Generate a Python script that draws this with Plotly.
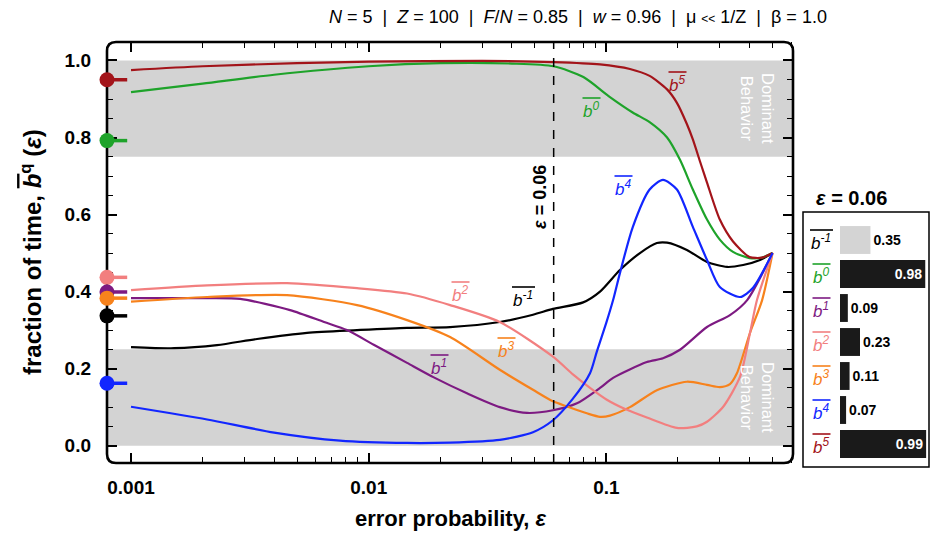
import numpy as np
import plotly.graph_objects as go

# ---------------- data ----------------
eps_bm1 = [0.001, 0.00152, 0.0023, 0.00339, 0.0055, 0.00893, 0.0145, 0.022, 0.0356, 0.0491, 0.0596,
           0.0798, 0.094, 0.114, 0.1384, 0.163, 0.18, 0.218, 0.265, 0.322, 0.376, 0.443, 0.5]
val_bm1 = [0.256, 0.253, 0.261, 0.277, 0.293, 0.300, 0.306, 0.308, 0.321, 0.34, 0.355,
           0.372, 0.40, 0.456, 0.50, 0.526, 0.527, 0.508, 0.477, 0.464, 0.469, 0.482, 0.5]

eps_b0 = [0.001, 0.002, 0.004, 0.01, 0.02, 0.04, 0.06, 0.08, 0.1035, 0.129, 0.152, 0.18, 0.204,
          0.231, 0.265, 0.30, 0.341, 0.40, 0.45, 0.5]
val_b0 = [0.918, 0.94, 0.963, 0.985, 0.993, 0.992, 0.985, 0.957, 0.905, 0.865, 0.84, 0.80, 0.742,
          0.665, 0.587, 0.535, 0.503, 0.487, 0.488, 0.5]

eps_b1 = [0.001, 0.00209, 0.00288, 0.00467, 0.00649, 0.0081, 0.0105, 0.0145, 0.0187, 0.0259, 0.0356,
          0.0464, 0.0596, 0.0752, 0.094, 0.1067, 0.148, 0.173, 0.204, 0.265, 0.331, 0.391, 0.5]
val_b1 = [0.383, 0.383, 0.381, 0.352, 0.321, 0.30, 0.262, 0.215, 0.178, 0.136, 0.10,
          0.085, 0.092, 0.11, 0.15, 0.176, 0.217, 0.227, 0.249, 0.308, 0.339, 0.378, 0.5]

eps_b2 = [0.001, 0.00209, 0.00453, 0.00893, 0.0145, 0.022, 0.0356, 0.0596, 0.0723, 0.0853, 0.1, 0.12,
          0.148, 0.198, 0.24, 0.265, 0.31, 0.365, 0.402, 0.43, 0.5]
val_b2 = [0.404, 0.416, 0.422, 0.409, 0.395, 0.365, 0.321, 0.231, 0.185, 0.15, 0.12, 0.095,
          0.073, 0.046, 0.05, 0.062, 0.101, 0.179, 0.293, 0.378, 0.5]

eps_b3 = [0.001, 0.00209, 0.00453, 0.00893, 0.0145, 0.022, 0.0356, 0.0491, 0.0596, 0.0682, 0.0828,
          0.094, 0.1035, 0.1256, 0.163, 0.218, 0.265, 0.30, 0.331, 0.354, 0.402, 0.452, 0.5]
val_b3 = [0.374, 0.386, 0.391, 0.365, 0.326, 0.282, 0.197, 0.145, 0.115, 0.102, 0.084,
          0.075, 0.078, 0.10, 0.144, 0.166, 0.158, 0.152, 0.16, 0.188, 0.293, 0.378, 0.5]

eps_b4 = [0.001, 0.00209, 0.004, 0.00757, 0.0145, 0.022, 0.0356, 0.0491, 0.0596, 0.0723, 0.0853,
          0.0912, 0.1, 0.1067, 0.114, 0.129, 0.152, 0.173, 0.198, 0.231, 0.265, 0.30, 0.365, 0.414, 0.5]
val_b4 = [0.101, 0.068, 0.034, 0.013, 0.007, 0.008, 0.015, 0.035, 0.066, 0.122, 0.188,
          0.245, 0.32, 0.378, 0.448, 0.567, 0.665, 0.69, 0.665, 0.568, 0.482, 0.412, 0.386, 0.41, 0.5]

eps_b5 = [0.001, 0.002, 0.005, 0.01, 0.03, 0.06, 0.094, 0.1256, 0.152, 0.18, 0.198, 0.218, 0.231,
          0.25, 0.265, 0.30, 0.341, 0.40, 0.45, 0.5]
val_b5 = [0.975, 0.985, 0.993, 0.997, 0.999, 0.996, 0.99, 0.978, 0.96, 0.925, 0.89, 0.835, 0.795,
          0.73, 0.683, 0.587, 0.53, 0.49, 0.488, 0.5]

# limit values marked on the left axis
left_keys = ["b5", "b0", "b2", "b1", "b3", "bm1", "b4"]
left_vals = [0.95, 0.792, 0.437, 0.399, 0.383, 0.337, 0.162]

# inset bar chart at eps = 0.06
bar_keys = ["bm1", "b0", "b1", "b2", "b3", "b4", "b5"]
bar_sups = ["-1", "0", "1", "2", "3", "4", "5"]
bar_values = [0.35, 0.98, 0.09, 0.23, 0.11, 0.07, 0.99]
eps_marked = 0.06

x_ticks = [0.001, 0.01, 0.1]
x_ticktext = ["0.001", "0.01", "0.1"]
y_ticks = [0.0, 0.2, 0.4, 0.6, 0.8, 1.0]

# ---------------- style ----------------
FONT = "Liberation Sans, Arial, Helvetica, sans-serif"
COL = {
    "bm1": "#000000", "b0": "#1ea32a", "b1": "#7d1a82", "b2": "#f27f7f",
    "b3": "#f7821c", "b4": "#1226ff", "b5": "#a3141a",
}
SUP = {"bm1": "-1", "b0": "0", "b1": "1", "b2": "2", "b3": "3", "b4": "4", "b5": "5"}
W, H = 930, 534
XR = [-3.101, -0.215]
YR = [-0.045, 1.048]
PL, PR, PT, PB = 107, 793, 42, 463   # plot box in pixels
px = lambda v: v / W
py = lambda v: 1 - v / H


def blab(sup):
    return f"<i>b</i><sup><i>{sup}</i></sup>"


fig = go.Figure()

series = [("bm1", eps_bm1, val_bm1), ("b1", eps_b1, val_b1), ("b3", eps_b3, val_b3),
          ("b2", eps_b2, val_b2), ("b0", eps_b0, val_b0), ("b5", eps_b5, val_b5),
          ("b4", eps_b4, val_b4)]
for key, ex, ey in series:
    fig.add_trace(go.Scatter(x=ex, y=ey, mode="lines", showlegend=False,
                             line=dict(color=COL[key], width=2.2, shape="spline", smoothing=0.7)))

# markers on the left axis with short stubs
x_left = 10 ** XR[0]
x_stub = 10 ** (XR[0] + 0.085)
for key, v in zip(left_keys, left_vals):
    fig.add_trace(go.Scatter(x=[x_left, x_stub], y=[v, v], mode="lines", showlegend=False,
                             cliponaxis=False, line=dict(color=COL[key], width=3.5)))
    fig.add_trace(go.Scatter(x=[x_left], y=[v], mode="markers", showlegend=False,
                             cliponaxis=False,
                             marker=dict(size=15, color=COL[key], opacity=1, line=dict(width=0))))

# inset bars
bar_cols = ["#d4d4d4"] + ["#1a1a1a"] * 6
bar_pos = ["inside" if v > 0.5 else "outside" for v in bar_values]
bar_tcol = ["white" if v > 0.5 else "black" for v in bar_values]
fig.add_trace(go.Bar(x=bar_values, y=bar_sups, orientation="h", xaxis="x2", yaxis="y2",
                     marker=dict(color=bar_cols, line=dict(width=0)), width=0.82,
                     text=[f"<b>{v:.2f}</b>" for v in bar_values], textposition=bar_pos,
                     insidetextanchor="end", cliponaxis=False,
                     textfont=dict(color=bar_tcol, size=14, family=FONT), showlegend=False))

# rounded plot frame
r = 9
xa, xb, ya, yb = px(PL), px(PR), py(PT), py(PB)
rx, ry = r / W, r / H
frame = (f"M {xa+rx},{ya} L {xb-rx},{ya} Q {xb},{ya} {xb},{ya-ry} L {xb},{yb+ry} "
         f"Q {xb},{yb} {xb-rx},{yb} L {xa+rx},{yb} Q {xa},{yb} {xa},{yb+ry} "
         f"L {xa},{ya-ry} Q {xa},{ya} {xa+rx},{ya} Z")

shapes = [
    dict(type="rect", xref="x domain", yref="y", x0=0, x1=1, y0=0.75, y1=1.0,
         fillcolor="#d3d3d3", line=dict(width=0), layer="below"),
    dict(type="rect", xref="x domain", yref="y", x0=0, x1=1, y0=0.0, y1=0.25,
         fillcolor="#d3d3d3", line=dict(width=0), layer="below"),
    dict(type="line", xref="x", yref="y domain", x0=eps_marked, x1=eps_marked, y0=0, y1=1,
         line=dict(color="black", width=1.5, dash="dash")),
    dict(type="path", xref="paper", yref="paper", path=frame, line=dict(color="black", width=2.6),
         layer="below"),
    dict(type="rect", xref="paper", yref="paper", x0=px(803), x1=px(929), y0=py(467), y1=py(212),
         line=dict(color="black", width=1.5)),
]

ann = []


def add_label(key, xc, yc, size):
    ann.append(dict(x=px(xc), y=py(yc), xref="paper", yref="paper", xanchor="center",
                    yanchor="middle", text=blab(SUP[key]), showarrow=False,
                    font=dict(family=FONT, size=size, color=COL[key])))
    half = 11 if key == "bm1" else 8.5
    shapes.append(dict(type="line", xref="paper", yref="paper",
                       x0=px(xc - half), x1=px(xc + half + 1), y0=py(yc - 12), y1=py(yc - 12),
                       line=dict(color=COL[key], width=1.6)))


# curve labels (pixel placement)
lab_pos = {"b5": (677, 84), "b0": (591, 110), "b4": (623, 188), "bm1": (523, 299),
           "b2": (460, 294), "b3": (506, 350), "b1": (439, 367)}
for key, (xc, yc) in lab_pos.items():
    add_label(key, xc, yc, 17)

# inset labels
for i, key in enumerate(bar_keys):
    add_label(key, 821, 223 + (i + 0.5) * 34 + 2, 17)

# dominant behavior
for yc in (108, 397):
    ann.append(dict(x=px(758), y=py(yc), xref="paper", yref="paper", xanchor="center",
                    yanchor="middle", text="Dominant<br>Behavior", textangle=90, showarrow=False,
                    font=dict(family=FONT, size=16.5, color="white")))

# eps marker text
ann.append(dict(x=px(540), y=py(197), xref="paper", yref="paper", xanchor="center",
                yanchor="middle", text="<b><i>ε</i> = 0.06</b>",
                textangle=-90, showarrow=False, font=dict(family=FONT, size=18, color="black")))

# top parameter line
sep = "&nbsp;&nbsp;|&nbsp;&nbsp;"
ann.append(dict(x=px(829), y=py(17), xref="paper", yref="paper", xanchor="right", yanchor="middle",
                text=f"<i>N</i> = 5{sep}<i>Z</i> = 100{sep}<i>F</i>/<i>N</i> = 0.85{sep}"
                     f"<i>w</i> = 0.96{sep}μ <span style='font-size:12px'>&lt;&lt;</span> 1/Z{sep}β = 1.0",
                showarrow=False, font=dict(family=FONT, size=18, color="black")))

# axis titles
ann.append(dict(x=px(31), y=py(252), xref="paper", yref="paper", xanchor="center", yanchor="middle",
                textangle=-90, showarrow=False,
                text="<b>fraction of time, <span style='text-decoration:overline'><i>b</i></span>"
                     "<sup>q</sup> (<i>ε</i>)</b>",
                font=dict(family=FONT, size=24, color="black")))
ann.append(dict(x=px(451), y=py(518), xref="paper", yref="paper", xanchor="center", yanchor="middle",
                showarrow=False, text="<b>error probability, <i>ε</i></b>",
                font=dict(family=FONT, size=22, color="black")))

# inset title
ann.append(dict(x=px(851), y=py(198), xref="paper", yref="paper", xanchor="center", yanchor="middle",
                showarrow=False, text="<b><i>ε</i> = 0.06</b>",
                font=dict(family=FONT, size=20, color="black")))

minor_x = [d * 10 ** e for e in (-3, -2, -1) for d in range(2, 10) if d * 10 ** e < 10 ** XR[1]]

fig.update_layout(
    width=W, height=H, margin=dict(l=0, r=0, t=0, b=0),
    paper_bgcolor="white", plot_bgcolor="white", showlegend=False,
    font=dict(family=FONT, color="black"),
    shapes=shapes, annotations=ann,
    xaxis=dict(type="log", range=XR, domain=[px(PL), px(PR)], showgrid=False, zeroline=False,
               showline=False, mirror="allticks",
               ticks="inside", ticklen=10, tickwidth=1.5, tickcolor="black",
               tickvals=x_ticks, ticktext=[f"<b>{t}</b>" for t in x_ticktext],
               tickfont=dict(size=19, family=FONT), ticklabelstandoff=11,
               minor=dict(tickvals=minor_x, ticks="inside", ticklen=6, tickwidth=1.2,
                          tickcolor="black", showgrid=False),
               layer="below traces"),
    yaxis=dict(range=YR, domain=[py(PB), py(PT)], showgrid=False, zeroline=False,
               showline=False, mirror="allticks",
               ticks="inside", ticklen=10, tickwidth=1.5, tickcolor="black",
               tickvals=y_ticks, ticktext=[f"<b>{t:.1f}</b>" for t in y_ticks],
               tickfont=dict(size=19, family=FONT), ticklabelstandoff=15,
               minor=dict(dtick=0.05, ticks="inside", ticklen=6, tickwidth=1.2,
                          tickcolor="black", showgrid=False),
               layer="below traces"),
    xaxis2=dict(domain=[px(840), px(927)], range=[0, 1.0], visible=False, anchor="y2"),
    yaxis2=dict(domain=[py(461), py(223)], type="category", categoryorder="array",
                categoryarray=bar_sups, autorange="reversed", visible=False, anchor="x2"),
    bargap=0.2,
)

fig.write_html("out.html", config={"displayModeBar": False},
               post_script="document.body.style.margin='0px';document.body.style.padding='0px';")
